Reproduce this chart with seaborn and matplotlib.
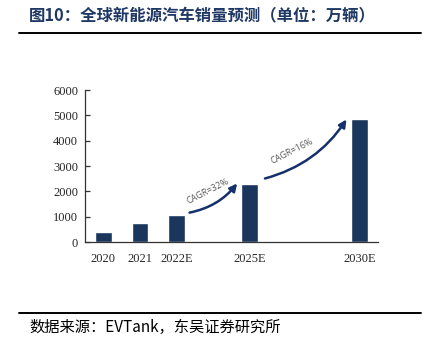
import pandas as pd
import matplotlib.pyplot as plt
import seaborn as sns

# Data (万辆)
years = ["2020", "2021", "2022E", "2025E", "2030E"]
sales = [400, 740, 1060, 2300, 4850]
# category slots along the x axis (gaps are empty slots)
slots = ["2020", "2021", "2022E", "gap1", "2025E", "gap2", "gap3", "2030E"]
cagr_labels = ["CAGR=32%", "CAGR=16%"]
yticks = [0, 1000, 2000, 3000, 4000, 5000, 6000]

title = "图10：全球新能源汽车销量预测（单位：万辆）"
source = "数据来源：EVTank，东吴证券研究所"

bar_color = "#1b365d"
arrow_color = "#15306b"
title_color = "#1f3864"

sns.set_style("white")
plt.rcParams['font.family'] = ['Noto Sans CJK SC', 'DejaVu Sans']

df = pd.DataFrame({"year": years, "sales": sales})

fig = plt.figure(figsize=(4.24, 3.51), dpi=100)
ax = fig.add_axes([0.2005, 0.3105, 0.691, 0.433])

sns.barplot(data=df, x="year", y="sales", order=slots, color=bar_color,
            saturation=1, width=0.46, ax=ax)

ax.set_xlim(-0.5, len(slots) - 0.5)
ax.set_ylim(0, 6000)
ax.set_yticks(yticks)
ax.set_yticklabels([str(t) for t in yticks], family="Liberation Serif", fontsize=9)
ax.set_xticks(range(len(slots)))
ax.set_xticklabels([s if not s.startswith("gap") else "" for s in slots],
                   family="Liberation Serif", fontsize=9)
ax.set_xticks([i - 0.5 for i in range(len(slots) + 1)], minor=True)
ax.tick_params(axis="x", which="major", length=0, pad=8)
ax.tick_params(axis="x", which="minor", direction="in", length=3.5, width=0.9, color="#333333")
ax.tick_params(axis="y", direction="in", length=3.5, width=0.9, color="#333333", pad=5, left=True)
ax.set_xlabel("")
ax.set_ylabel("")
sns.despine(ax=ax)
for s in ["left", "bottom"]:
    ax.spines[s].set_color("#333333")
    ax.spines[s].set_linewidth(0.9)

# CAGR arrows between bars
pos = {y: slots.index(y) for y in years}
ax.annotate("", xy=(pos["2025E"] - 0.3, sales[3] + 100),
            xytext=(pos["2022E"] + 0.28, sales[2] + 80),
            arrowprops=dict(arrowstyle="-|>", color=arrow_color, lw=1.8,
                            mutation_scale=11, connectionstyle="arc3,rad=0.2"))
ax.annotate("", xy=(pos["2030E"] - 0.32, sales[4] + 80),
            xytext=(pos["2025E"] + 0.34, sales[3] + 180),
            arrowprops=dict(arrowstyle="-|>", color=arrow_color, lw=1.8,
                            mutation_scale=11, connectionstyle="arc3,rad=0.2"))
ax.text(2.85, 2000, cagr_labels[0], rotation=27, fontsize=6.5, color="#595959",
        family="Open Sans", ha="center", va="center")
ax.text(5.16, 3585, cagr_labels[1], rotation=27, fontsize=6.5, color="#595959",
        family="Open Sans", ha="center", va="center")

# title, rules and source
fig.text(29 / 424, 1 - 16 / 351, title, fontsize=11.8, fontweight="bold",
         color=title_color, ha="left", va="center")
fig.add_artist(plt.Line2D([19 / 424, 421 / 424], [1 - 33 / 351, 1 - 33 / 351],
                          color="black", lw=1.4))
fig.add_artist(plt.Line2D([19 / 424, 421 / 424], [1 - 313 / 351, 1 - 313 / 351],
                          color="black", lw=1.4))
fig.text(29 / 424, 1 - 327 / 351, source, fontsize=11, color="black",
         ha="left", va="center")

plt.savefig("out.png", dpi=100)
